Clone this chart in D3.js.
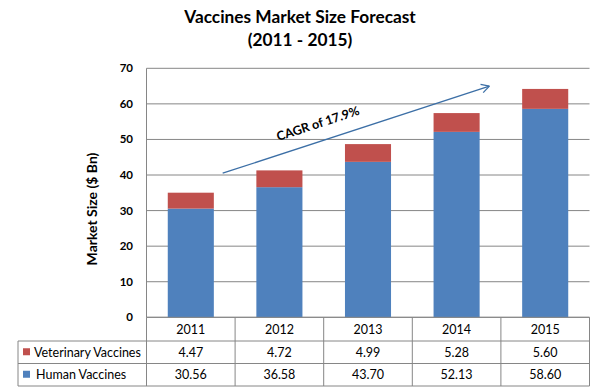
<!DOCTYPE html>
<html><head><meta charset="utf-8">
<script src="https://cdn.jsdelivr.net/npm/d3@7"></script>
<style>body{margin:0;background:#fff}svg{display:block}text{font-family:Lato,"Open Sans",sans-serif}</style>
</head><body><svg id="c" width="601" height="391"></svg>
<script>
const years = ["2011","2012","2013","2014","2015"];
const human = [30.56, 36.58, 43.70, 52.13, 58.60];
const veterinary = [4.47, 4.72, 4.99, 5.28, 5.60];
const yTicks = [0,10,20,30,40,50,60,70];
const titleLines = ["Vaccines Market Size Forecast", "(2011 - 2015)"];
const yTitle = "Market Size ($ Bn)";
const cagrLabel = "CAGR of 17.9%";
const seriesNames = ["Veterinary Vaccines", "Human Vaccines"];
const colors = {human:"#4F81BD", vet:"#C0504D"};

const svg = d3.select("#c");
const L = 146.5, R = 589.5, T = 68.3, B = 317.3;
const x = d3.scaleBand().domain(years).range([L, R]).paddingInner(0.48).paddingOuter(0.24);
const xc = d3.scaleBand().domain(years).range([L, R]);
const y = d3.scaleLinear().domain([0,70]).range([B, T]);
const grid = "#868686";

// title
svg.selectAll("text.title").data(titleLines).join("text")
  .attr("x", 300).attr("y", (d,i)=>23 + i*23)
  .attr("text-anchor","middle").attr("font-weight","bold").attr("font-size", 17.3)
  .attr("fill","#000").text(d=>d);

// gridlines
svg.append("g").selectAll("line").data(yTicks).join("line")
  .attr("x1", L).attr("x2", R).attr("y1", d=>y(d)).attr("y2", d=>y(d))
  .attr("stroke", grid).attr("stroke-width",1);
svg.append("line").attr("x1",L).attr("x2",L).attr("y1",T).attr("y2",B).attr("stroke",grid);

// y labels
svg.append("g").selectAll("text").data(yTicks).join("text")
  .attr("x", 133).attr("y", d=>y(d)+4).attr("text-anchor","end")
  .attr("font-size",11.5).attr("font-weight","bold").text(d=>d);

svg.append("text").attr("transform","translate(97,209) rotate(-90)")
  .attr("text-anchor","middle").attr("font-size",14).attr("font-weight","bold").text(yTitle);

// bars
const bars = svg.append("g");
bars.selectAll("rect.h").data(years).join("rect")
  .attr("x", d=>x(d)).attr("width", x.bandwidth())
  .attr("y", (d,i)=>y(human[i])).attr("height",(d,i)=>y(0)-y(human[i]))
  .attr("fill", colors.human);
bars.selectAll("rect.v").data(years).join("rect")
  .attr("x", d=>x(d)).attr("width", x.bandwidth())
  .attr("y", (d,i)=>y(human[i]+veterinary[i])).attr("height",(d,i)=>y(human[i])-y(human[i]+veterinary[i]))
  .attr("fill", colors.vet);

// CAGR arrow (in data coords: index along categories, value on y)
const xi = d3.scaleLinear().domain([0,1]).range([xc("2011")+xc.bandwidth()/2, xc("2012")+xc.bandwidth()/2]);
const arrowFrom = [0.36, 40.5], arrowTo = [3.37, 65.0];
const ax1 = xi(arrowFrom[0]), ay1 = y(arrowFrom[1]), ax2 = xi(arrowTo[0]), ay2 = y(arrowTo[1]);
const ang = Math.atan2(ay2-ay1, ax2-ax1);
const ac = "#3C6FA6";
svg.append("line").attr("x1",ax1).attr("y1",ay1).attr("x2",ax2).attr("y2",ay2).attr("stroke",ac).attr("stroke-width",1.3);
[0.5,-0.5].forEach(o=>{
  svg.append("line").attr("x1",ax2).attr("y1",ay2)
    .attr("x2", ax2-9*Math.cos(ang+o)).attr("y2", ay2-9*Math.sin(ang+o))
    .attr("stroke",ac).attr("stroke-width",1.3);
});
const deg = ang*180/Math.PI;
svg.append("text").attr("transform",`translate(${xi(1.45)},${y(53.3)}) rotate(${deg})`)
  .attr("text-anchor","middle").attr("font-size",12.5).attr("font-weight","bold").text(cagrLabel);

// data table
const rowY = [317.3, 341, 363.5, 386];
const tg = svg.append("g").attr("stroke", grid).attr("stroke-width",1);
tg.append("line").attr("x1",L).attr("x2",R).attr("y1",rowY[0]).attr("y2",rowY[0]);
[1,2,3].forEach(i=>tg.append("line").attr("x1",18).attr("x2",R).attr("y1",rowY[i]).attr("y2",rowY[i]));
const colEdges = years.map(d=>xc(d)).concat([R]);
colEdges.forEach(cx=>tg.append("line").attr("x1",cx).attr("x2",cx).attr("y1",rowY[0]).attr("y2",rowY[3]));
tg.append("line").attr("x1",18).attr("x2",18).attr("y1",rowY[1]).attr("y2",rowY[3]);

svg.append("g").selectAll("text").data(years).join("text")
  .attr("x", d=>xc(d)+xc.bandwidth()/2).attr("y", (rowY[0]+rowY[1])/2+4.5)
  .attr("text-anchor","middle").attr("font-size",12.5).text(d=>d);
const rows = [veterinary, human];
const rowColors = [colors.vet, colors.human];
rows.forEach((vals,r)=>{
  const cy = (rowY[r+1]+rowY[r+2])/2;
  svg.append("g").selectAll("text").data(vals).join("text")
    .attr("x",(d,i)=>xc(years[i])+xc.bandwidth()/2).attr("y",cy+4.5)
    .attr("text-anchor","middle").attr("font-size",12.5).text(d=>d.toFixed(2));
  svg.append("rect").attr("x",23).attr("y",cy-4).attr("width",7).attr("height",7).attr("fill",rowColors[r]);
  svg.append("text").attr("x", r===0?34:36).attr("y",cy+4.5).attr("font-size",12.5).text(seriesNames[r]);
});
</script></body></html>
